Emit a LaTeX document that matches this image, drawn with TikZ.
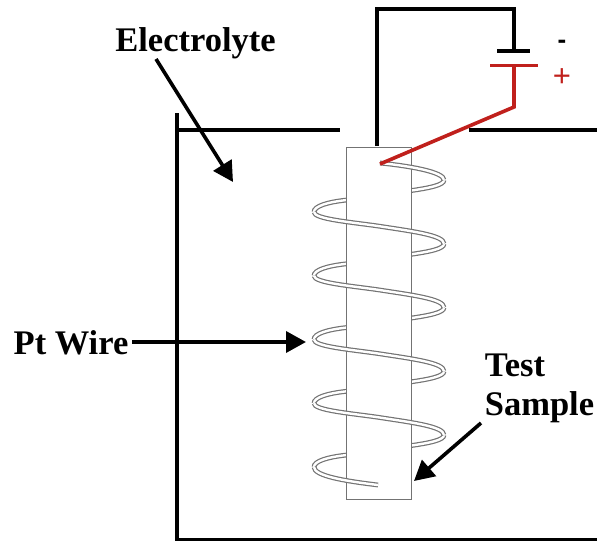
\documentclass[tikz,border=0pt]{standalone}
\usepackage{fontspec}
\setmainfont{Liberation Serif}
\newfontfamily\plusfont{Liberation Sans}
\usetikzlibrary{arrows.meta}
\definecolor{wred}{RGB}{192,32,28}
\definecolor{wiregray}{RGB}{115,115,115}
\tikzset{
  x=1pt,y=-1pt,
  wall/.style={line width=3.2pt,black},
  blackwire/.style={line width=3.4pt,black},
  redwire/.style={line width=3.6pt,wred},
  coil/.style={draw=wiregray,line width=1.2pt,double=white,double distance=2.4pt},
  sample/.style={draw=wiregray,line width=1.1pt,fill=white},
  pointer/.style={line width=3.6pt,black,-{Triangle[length=20pt,width=21pt]}},
  lbl/.style={font=\bfseries\fontsize{34.5}{36}\selectfont,inner sep=0pt,align=center},
}
\begin{document}
\begin{tikzpicture}
\useasboundingbox (0,0) rectangle (597,541);
% container
\draw[wall,line cap=rect] (177,115) -- (177,539.5) -- (597,539.5);
\draw[wall] (177,130) -- (340,130);
\draw[wall] (469,130) -- (597,130);
% back strands of coil
\foreach \y in {0,63.75,127.5,191.25,255}{
  \draw[coil] (444,180+\y) .. controls (444,185+\y) and (430,188+\y) .. (408,191+\y);
  \draw[coil] (347,200+\y) .. controls (328,202+\y) and (314,206+\y) .. (314,212+\y);
}
% sample
\node[sample,minimum width=65pt,minimum height=352pt,inner sep=0pt,anchor=north west] (samplebox) at (345.5,147) {};
% front strands of coil
\draw[coil] (380,163) .. controls (410,166) and (444,172) .. (444,180);
\foreach \y in {0,63.75,127.5,191.25}{
  \draw[coil] (314,212+\y) .. controls (314,219+\y) and (350,222+\y) .. (378,226+\y)
     .. controls (410,231+\y) and (444,235+\y) .. (444,243.75+\y);
}
\draw[coil] (314,467) .. controls (314,476) and (345,481) .. (378,485);
% circuit
\coordinate (wtop) at (377,146);
\node[inner sep=0pt,minimum size=0pt] (negplate) at (514,51) {};
\node[inner sep=0pt,minimum size=0pt] (posplate) at (514,65.5) {};
\coordinate (bend) at (514,107);
\coordinate (wend) at (380,164);
\draw[blackwire,line join=miter] (wtop) -- (377,9) -- (514,9) -- (negplate.center);
\draw[blackwire] (497,51) -- (530,51);
\draw[redwire] (490,65.5) -- (538,65.5);
\draw[redwire,line join=miter] (posplate.center) -- (bend) -- (wend);
\node[font=\bfseries\plusfont\fontsize{26}{28}\selectfont,inner sep=0pt] (minus) at (562,44) {-};
\node[font=\plusfont\fontsize{31}{33}\selectfont,text=wred,inner sep=0pt] (plus) at (562,78) {+};
% labels
\node[lbl] (electrolyte) at (195.5,43) {Electrolyte};
\node[lbl] (ptwire) at (71,342.5) {Pt Wire};
\node[lbl] (test) at (515,365) {Test};
\node[lbl] (samplelbl) at (539.5,407) {Sample};
% pointers
\coordinate (elstart) at (156,59);
\coordinate (eltip) at (233,182);
\coordinate (pttip) at (306,342);
\coordinate (ptstart) at (132,342);
\coordinate (tstart) at (481,423);
\coordinate (ttip) at (414,481);
\draw[pointer] (elstart) -- (eltip);
\draw[pointer] (ptstart) -- (pttip);
\draw[pointer] (tstart) -- (ttip);
\end{tikzpicture}
\end{document}
